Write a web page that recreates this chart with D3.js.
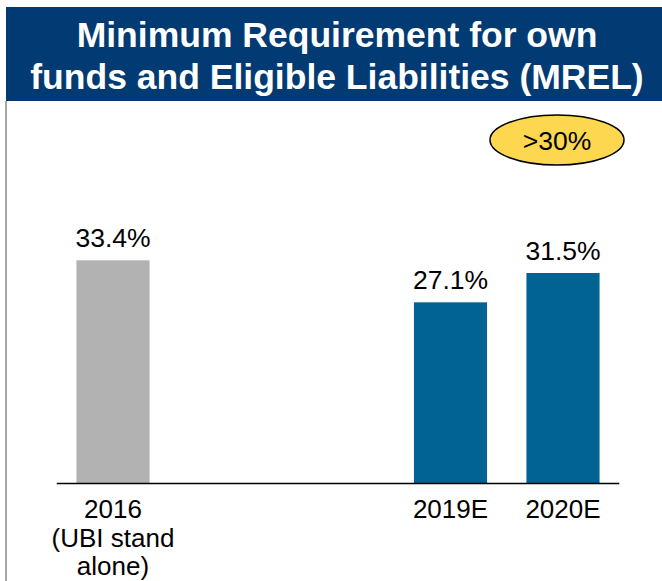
<!DOCTYPE html>
<html>
<head>
<meta charset="utf-8">
<script src="https://cdn.jsdelivr.net/npm/d3@7/dist/d3.min.js"></script>
<style>
  html, body { margin: 0; padding: 0; background: #fff; }
  svg { display: block; font-family: "Liberation Sans", Arial, sans-serif; }
</style>
</head>
<body>
<div id="chart"></div>
<script>
const titleLines = ["Minimum Requirement for own", "funds and Eligible Liabilities (MREL)"];
const categories = [["2016", "(UBI stand", "alone)"], ["2019E"], ["2020E"]];
const values = [33.4, 27.1, 31.5];
const slots = [0, 3, 4]; // position of each bar among 5 slots (gap between 2016 and 2019E)
const barColors = ["#b2b2b2", "#006394", "#006394"];
const badgeText = ">30%";

const width = 662, height = 581;
const baseY = 483;

const svg = d3.select("#chart").append("svg")
  .attr("width", width)
  .attr("height", height);

// header band
svg.append("rect")
  .attr("x", 6).attr("y", 7)
  .attr("width", width - 6).attr("height", 94)
  .attr("fill", "#023a73");

svg.append("text")
  .attr("text-anchor", "middle")
  .attr("fill", "#fff")
  .style("font-weight", "bold")
  .style("font-size", "35.5px")
  .selectAll("tspan")
  .data(titleLines)
  .join("tspan")
  .attr("x", 337)
  .attr("y", (d, i) => 47 + i * 42)
  .text(d => d);

// left border
svg.append("line")
  .attr("x1", 6).attr("x2", 6)
  .attr("y1", 101).attr("y2", height)
  .attr("stroke", "#a6a6a6")
  .attr("stroke-width", 2);

const x = d3.scaleBand()
  .domain(d3.range(5))
  .range([56.75, 619.25])
  .paddingInner(0.35)
  .paddingOuter(0.175);

const y = d3.scaleLinear()
  .domain([0, 35])
  .range([baseY, baseY - 35 * 6.667]);

// bars
svg.append("g")
  .selectAll("rect")
  .data(values)
  .join("rect")
  .attr("x", (d, i) => x(slots[i]))
  .attr("y", d => y(d))
  .attr("width", x.bandwidth())
  .attr("height", d => y(0) - y(d))
  .attr("fill", (d, i) => barColors[i]);

// value labels
svg.append("g")
  .selectAll("text")
  .data(values)
  .join("text")
  .attr("x", (d, i) => x(slots[i]) + x.bandwidth() / 2)
  .attr("y", d => y(d) - 13)
  .attr("text-anchor", "middle")
  .style("font-size", "26.5px")
  .attr("fill", "#000")
  .text(d => d.toFixed(1) + "%");

// baseline
svg.append("line")
  .attr("x1", x.range()[0]).attr("x2", x.range()[1])
  .attr("y1", baseY + 0.5).attr("y2", baseY + 0.5)
  .attr("stroke", "#000")
  .attr("stroke-width", 1.5);

// category labels
svg.append("g")
  .selectAll("text")
  .data(categories)
  .join("text")
  .attr("text-anchor", "middle")
  .style("font-size", "26px")
  .attr("fill", "#000")
  .each(function (lines, i) {
    const cx = x(slots[i]) + x.bandwidth() / 2;
    d3.select(this).selectAll("tspan")
      .data(lines)
      .join("tspan")
      .attr("x", cx)
      .attr("y", (d, j) => 518 + j * 28.5)
      .text(d => d);
  });

// badge
const badge = svg.append("g").attr("transform", "translate(557,140)");
badge.append("ellipse")
  .attr("rx", 67).attr("ry", 25)
  .attr("fill", "#fdd750")
  .attr("stroke", "#000")
  .attr("stroke-width", 1.5);
badge.append("text")
  .attr("text-anchor", "middle")
  .attr("y", 9.5)
  .style("font-size", "26.5px")
  .text(badgeText);
</script>
</body>
</html>
